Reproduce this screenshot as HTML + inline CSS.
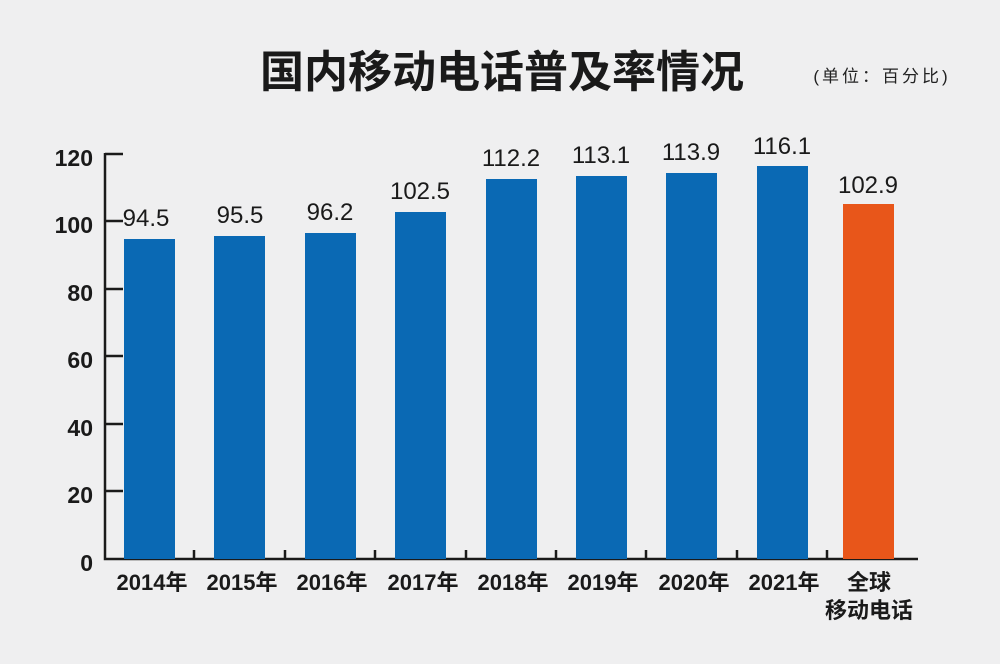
<!DOCTYPE html>
<html><head><meta charset="utf-8"><style>
body{margin:0;background:#efeff0;}
svg{display:block}
text{font-family:"Liberation Sans","Noto Sans CJK SC",sans-serif;}
</style></head><body>
<svg width="1000" height="664" viewBox="0 0 1000 664">
<rect width="1000" height="664" fill="#efeff0"/>
<text x="502" y="87" text-anchor="middle" font-size="44" font-weight="bold" fill="#1a1a1a" font-family="Noto Sans CJK SC,sans-serif">国内移动电话普及率情况</text>
<text x="882" y="82" text-anchor="middle" font-size="17" fill="#222" letter-spacing="3" font-family="Noto Serif CJK SC,serif">(单位：百分比)</text>
<g stroke="#1a1a1a" stroke-width="2.5" fill="none">
<path d="M105 153 V559 H918"/>
<path d="M105 154 H123 M105 221 H123 M105 289 H123 M105 356 H123 M105 424 H123 M105 491 H123"/>
<path d="M194 559 V550 M285 559 V550 M375 559 V550 M466 559 V550 M556 559 V550 M646 559 V550 M737 559 V550 M827 559 V550"/>
</g>
<g font-size="23" font-weight="bold" fill="#1a1a1a" text-anchor="end">
<text x="93" y="166">120</text><text x="93" y="233">100</text><text x="93" y="301">80</text>
<text x="93" y="368">60</text><text x="93" y="436">40</text><text x="93" y="503">20</text><text x="93" y="571">0</text>
</g>
<g fill="#0a69b4">
<rect x="124" y="239" width="51" height="320"/>
<rect x="214" y="236" width="51" height="323"/>
<rect x="305" y="233" width="51" height="326"/>
<rect x="395" y="212" width="51" height="347"/>
<rect x="486" y="179" width="51" height="380"/>
<rect x="576" y="176" width="51" height="383"/>
<rect x="666" y="173" width="51" height="386"/>
<rect x="757" y="166" width="51" height="393"/>
</g>
<rect x="843" y="204" width="51" height="355" fill="#e8561a"/>
<g font-size="24" fill="#1a1a1a" text-anchor="middle">
<text x="146" y="226">94.5</text><text x="240" y="223">95.5</text><text x="330" y="220">96.2</text>
<text x="420" y="199">102.5</text><text x="511" y="166">112.2</text><text x="601" y="163">113.1</text>
<text x="691" y="160">113.9</text><text x="782" y="154">116.1</text><text x="868" y="193">102.9</text>
</g>
<g font-size="22" font-weight="bold" fill="#1a1a1a" text-anchor="middle">
<text x="152" y="590">2014年</text><text x="242" y="590">2015年</text><text x="332" y="590">2016年</text>
<text x="423" y="590">2017年</text><text x="513" y="590">2018年</text><text x="603" y="590">2019年</text>
<text x="694" y="590">2020年</text><text x="784" y="590">2021年</text>
<text x="869" y="590">全球</text><text x="869" y="618">移动电话</text>
</g>
</svg>
</body></html>
